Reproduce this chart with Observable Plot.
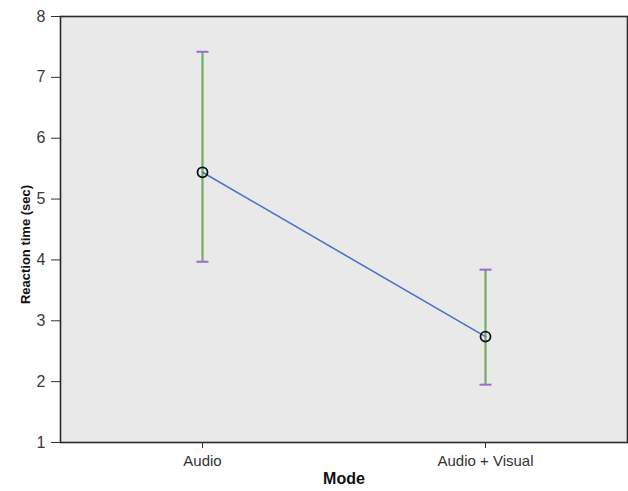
<!DOCTYPE html>
<html>
<head>
<meta charset="utf-8">
<script src="https://cdn.jsdelivr.net/npm/d3@7"></script>
<script src="https://cdn.jsdelivr.net/npm/@observablehq/plot@0.6"></script>
<style>
  html, body { margin: 0; padding: 0; background: #fff; }
  svg { display: block; }
</style>
</head>
<body>
<div id="chart"></div>
<script>
const modes = ["Audio", "Audio + Visual"];
const means = [5.44, 2.74];
const lower = [3.97, 1.95];
const upper = [7.42, 3.84];
const yTicks = [1, 2, 3, 4, 5, 6, 7, 8];

const data = modes.map((m, i) => ({mode: m, mean: means[i], lo: lower[i], hi: upper[i]}));

const capSymbol = {draw(context) { context.moveTo(-6, 0); context.lineTo(6, 0); }};

const chart = Plot.plot({
  width: 628,
  height: 491,
  marginLeft: 60,
  marginRight: 1,
  marginTop: 16,
  marginBottom: 49,
  style: {fontFamily: "Liberation Sans, Arial, sans-serif", fontSize: "15px", color: "#333", background: "#fff"},
  x: {type: "point", domain: modes, padding: 0.5, label: null},
  y: {domain: [1, 8], label: null},
  marks: [
    Plot.frame({fill: "#e9e9e9", stroke: "none"}),
    Plot.ruleX(data, {x: "mode", y1: "lo", y2: "hi", stroke: "#72b063", strokeWidth: 2.2}),
    Plot.dot(data, {x: "mode", y: "lo", symbol: capSymbol, stroke: "#9b6bd0", strokeWidth: 2, fill: "none"}),
    Plot.dot(data, {x: "mode", y: "hi", symbol: capSymbol, stroke: "#9b6bd0", strokeWidth: 2, fill: "none"}),
    Plot.line(data, {x: "mode", y: "mean", stroke: "#4a74c6", strokeWidth: 1.6}),
    Plot.dot(data, {x: "mode", y: "mean", r: 5, stroke: "#111", strokeWidth: 1.8, fill: "none"}),
    Plot.frame({stroke: "#2a2a2a", strokeWidth: 1.6}),
    Plot.axisY(yTicks, {tickSize: 9, tickPadding: 6, tickFormat: "d", stroke: "#333", fill: "#3a3a3a", fontSize: 16, label: null}),
    Plot.axisX(modes, {tickSize: 6, tickPadding: 7, stroke: "#333", fill: "#333", fontSize: 15, label: null}),
    Plot.text(["Reaction time (sec)"], {frameAnchor: "left", textAnchor: "middle", dx: -35, dy: 15, rotate: -90, fontWeight: "bold", fontSize: 13, fill: "#111"}),
    Plot.text(["Mode"], {frameAnchor: "bottom", dy: 41, fontWeight: "bold", fontSize: 16, fill: "#111"})
  ]
});
document.getElementById("chart").appendChild(chart);
</script>
</body>
</html>
